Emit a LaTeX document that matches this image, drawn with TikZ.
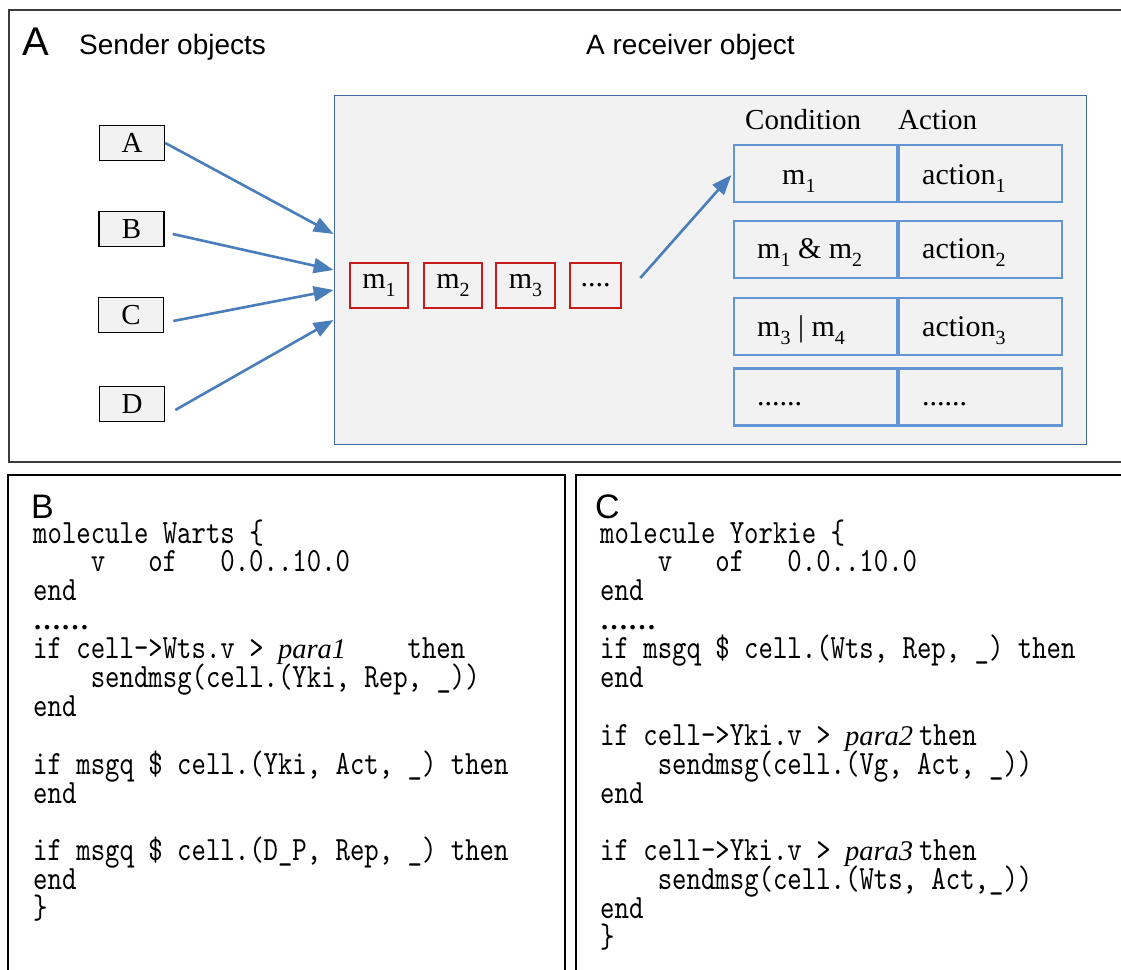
\documentclass[tikz,border=0pt]{standalone}
\usepackage{fontspec}
\setmainfont{Liberation Serif}
\newfontfamily\sansf{Liberation Sans}
\newfontfamily\serf{Liberation Serif}
\newfontfamily\codef[Extension=.otf, FakeStretch=0.807]{lmmono10-regular}
\usetikzlibrary{arrows.meta,calc}
\definecolor{arrblue}{RGB}{74,126,187}
\definecolor{recvblue}{RGB}{66,104,156}
\definecolor{cellblue}{RGB}{98,148,214}
\definecolor{msgred}{RGB}{200,28,28}
\definecolor{boxgray}{RGB}{242,242,242}
\definecolor{frameA}{RGB}{60,60,60}
\newlength\codecw
\setlength\codecw{14.4pt}
\newcommand\msub[1]{\raisebox{-0.28em}{\fontsize{20}{20}\selectfont #1}}
\newcommand\paraf{\serf\itshape\fontsize{28.5}{28.5}\selectfont}
\begin{document}
\begin{tikzpicture}[x=1pt,y=-1pt,
  sender/.style={draw=black, fill=boxgray, line width=1.6pt, minimum width=65pt, minimum height=35pt, inner sep=0pt, font=\serf\fontsize{29}{29}\selectfont},
  msgbox/.style={draw=msgred, line width=2.6pt, minimum height=45pt, inner sep=0pt, font=\serf\fontsize{30}{30}\selectfont},
  cellbox/.style={draw=cellblue, line width=2.6pt, minimum height=57pt, minimum width=163pt, inner sep=0pt},
  celltext/.style={anchor=base west, inner sep=0pt, font=\serf\fontsize{30}{30}\selectfont},
  arr/.style={draw=arrblue, line width=2.6pt, -{Triangle[length=20pt,width=15pt]}},
  code/.style={anchor=base west, inner sep=0pt, text height=19pt, text depth=6pt, font=\codef\fontsize{34}{34}\selectfont\frenchspacing},
  dots/.style={anchor=base west, inner sep=0pt, text height=5pt, text depth=0pt, font=\serf\bfseries\fontsize{28}{28}\selectfont},
  hdr/.style={anchor=base west, inner sep=0pt, font=\sansf\fontsize{28}{28}\selectfont},
  hdrs/.style={anchor=base west, inner sep=0pt, font=\serf\fontsize{29}{29}\selectfont},
  letter/.style={anchor=base west, inner sep=0pt, text depth=0pt, font=\sansf\fontsize{#1}{#1}\selectfont},
]
\useasboundingbox (0,0) rectangle (1121,969);
% panel frames
\draw[draw=frameA, line width=1.6pt] (9,10) rectangle (1130,462);
\draw[draw=black, line width=1.8pt] (8,475) rectangle (565,980);
\draw[draw=black, line width=1.8pt] (576,475) rectangle (1130,980);

% panel A titles
\node[letter=40] (pA) at (22,55) {A};
\node[hdr] (tsend) at (79,54) {Sender objects};
\node[hdr] (trecv) at (586,54) {A receiver object};

% receiver object
\node[draw=recvblue, fill=boxgray, line width=1.8pt, minimum width=752pt, minimum height=349pt, inner sep=0pt] (recv) at (710.5,270) {};

% senders
\node[sender] (A) at (132,143) {A};
\node[sender] (B) at (131.5,229) {B};
\node[sender] (C) at (131,315) {C};
\node[sender] (D) at (132,404) {D};

% messages
\node[msgbox, minimum width=58pt] (m1) at (379,285.5) {m\msub{1}};
\node[msgbox, minimum width=58pt] (m2) at (453,285.5) {m\msub{2}};
\node[msgbox, minimum width=59pt] (m3) at (525.5,285.5) {m\msub{3}};
\node[msgbox, minimum width=51pt] (m4) at (595.5,285.5) {....};

% table headers
\node[hdrs] (hcond) at (745,129) {Condition};
\node[hdrs] (hact) at (898,129) {Action};

% table cells
\node[cellbox] (c1L) at (815.5,173.5) {};
\node[cellbox] (c1R) at (980.5,173.5) {};
\node[cellbox] (c2L) at (815.5,249.5) {};
\node[cellbox] (c2R) at (980.5,249.5) {};
\node[cellbox] (c3L) at (815.5,326.5) {};
\node[cellbox] (c3R) at (980.5,326.5) {};
\node[cellbox] (c4L) at (815.5,397) {};
\node[cellbox] (c4R) at (980.5,397) {};
\node[celltext] (t1L) at (782,184) {m\msub{1}};
\node[celltext] (t1R) at (922,184) {action\msub{1}};
\node[celltext] (t2L) at (757,258) {m\msub{1} \& m\msub{2}};
\node[celltext] (t2R) at (922,258) {action\msub{2}};
\node[celltext] (t3L) at (757,336) {m\msub{3} | m\msub{4}};
\node[celltext] (t3R) at (922,336) {action\msub{3}};
\node[celltext] (t4L) at (757,405) {......};
\node[celltext] (t4R) at (922,405) {......};

% arrows
\draw[arr] (A.east) -- ([yshift=36pt]recv.west);
\draw[arr] ([xshift=8pt,yshift=-5pt]B.east) -- (recv.west);
\draw[arr] ([xshift=9pt,yshift=-6pt]C.east) -- ([yshift=-20pt]recv.west);
\draw[arr] ([xshift=10pt,yshift=-6pt]D.east) -- ([yshift=-50pt]recv.west);
\draw[arr, shorten >=2pt] ([xshift=18pt,yshift=7.5pt]m4.east) -- (c1L.west);

% panel B
\node[letter=34] (pB) at (31,518) {B};
\node[code] (b1) at (33,543) {molecule Warts \{};
\node[code] (b2) at (33,571.9) {\ \ \ \ v\ \ \ of\ \ \ 0.0..10.0};
\node[code] (b3) at (33,600.8) {end};
\node[dots] (b4) at (33,629.7) {……};
\node[code] (b5) at (33,658.6) {if cell->Wts.v >\ \makebox[9\codecw][l]{\paraf para1}then};
\node[code] (b6) at (33,687.5) {\ \ \ \ sendmsg(cell.(Yki,\ Rep,\ \_))};
\node[code] (b7) at (33,716.4) {end};
\node[code] (b9) at (33,774.2) {if msgq \$ cell.(Yki,\ Act,\ \_) then};
\node[code] (b10) at (33,803.1) {end};
\node[code] (b12) at (33,860.9) {if msgq \$ cell.(D\_P,\ Rep,\ \_) then};
\node[code] (b13) at (33,889.8) {end};
\node[code] (b14) at (33,918.7) {\}};

% panel C
\node[letter=34] (pC) at (595,518) {C};
\node[code] (k1) at (600,543) {molecule Yorkie \{};
\node[code] (k2) at (600,571.9) {\ \ \ \ v\ \ \ of\ \ \ 0.0..10.0};
\node[code] (k3) at (600,600.8) {end};
\node[dots] (k4) at (600,629.7) {……};
\node[code] (k5) at (600,658.6) {if msgq \$ cell.(Wts,\ Rep,\ \_) then};
\node[code] (k6) at (600,687.5) {end};
\node[code] (k8) at (600,745.3) {if cell->Yki.v >\ \makebox[5\codecw][l]{\paraf para2}\hspace{2pt}then};
\node[code] (k9) at (600,774.2) {\ \ \ \ sendmsg(cell.(Vg,\ Act,\ \_))};
\node[code] (k10) at (600,803.1) {end};
\node[code] (k12) at (600,860.9) {if cell->Yki.v >\ \makebox[5\codecw][l]{\paraf para3}\hspace{2pt}then};
\node[code] (k13) at (600,889.8) {\ \ \ \ sendmsg(cell.(Wts,\ Act,\_))};
\node[code] (k14) at (600,918.7) {end};
\node[code] (k15) at (600,947.6) {\}};
\end{tikzpicture}
\end{document}
